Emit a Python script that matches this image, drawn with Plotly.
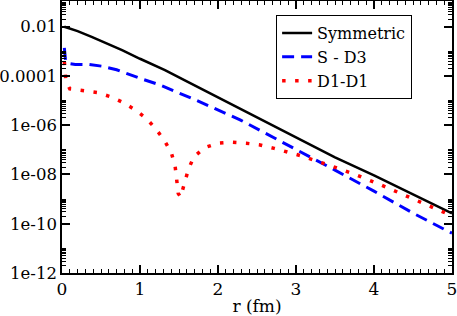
import plotly.graph_objects as go

# Symmetric
r_sym = [0.03, 0.2, 0.38, 0.6, 0.77, 1.0, 1.32, 1.6, 2.0, 2.55, 3.07, 3.5, 4.0, 4.5, 5.0]
v_sym = [1.0e-2, 6.6e-3, 3.9e-3, 2.0e-3, 1.12e-3, 5.0e-4, 1.74e-4, 6.0e-5, 1.35e-5,
         1.74e-6, 2.5e-7, 5.0e-8, 9.1e-9, 1.55e-9, 2.63e-10]

# S - D3
r_sd3 = [0.03, 0.035, 0.045, 0.07, 0.17, 0.35, 0.51, 0.7, 0.85, 1.05, 1.24, 1.71, 2.29,
         3.06, 3.5, 4.0, 4.5, 5.0]
v_sd3 = [1.38e-3, 7.0e-4, 4.5e-4, 3.3e-4, 2.95e-4, 2.9e-4, 2.5e-4, 1.78e-4, 1.17e-4,
         7.1e-5, 4.5e-5, 1.07e-5, 1.62e-6, 8.5e-8, 1.5e-8, 2.1e-9, 2.7e-10, 4.1e-11]

# D1-D1
r_dd = [0.03, 0.035, 0.05, 0.1, 0.27, 0.45, 0.62, 0.78, 0.94, 1.08, 1.195, 1.31, 1.40,
        1.45, 1.47, 1.49, 1.52, 1.57, 1.62, 1.69, 1.83, 2.0, 2.17, 2.36, 2.54, 2.72,
        2.89, 3.06, 3.39, 3.74, 4.07, 4.41, 4.73, 4.90, 5.0]
v_dd = [3.8e-4, 1.6e-4, 6.3e-5, 3.0e-5, 2.5e-5, 2.14e-5, 1.45e-5, 8.5e-6, 4.2e-6,
        1.9e-6, 7.6e-7, 2.5e-7, 7.9e-8, 2.2e-8, 6.3e-9, 1.7e-9, 1.2e-9, 4.7e-9, 1.6e-8,
        5.2e-8, 1.23e-7, 1.86e-7, 2.04e-7, 1.86e-7, 1.58e-7, 1.15e-7, 8.5e-8, 5.8e-8,
        2.6e-8, 1.05e-8, 4.0e-9, 1.38e-9, 4.9e-10, 2.8e-10, 2.1e-10]

y_tickvals = [1e-12, 1e-10, 1e-8, 1e-6, 1e-4, 1e-2]
y_ticktext = ["1e-12", "1e-10", "1e-08", "1e-06", "0.0001", "0.01"]
x_tickvals = [0, 1, 2, 3, 4, 5]

minor_y = [k * m for m in y_tickvals for k in range(2, 11)]

font = "DejaVu Serif"

fig = go.Figure()
fig.add_trace(go.Scatter(x=r_sym, y=v_sym, mode="lines", name="Symmetric",
                         line=dict(color="black", width=2.5)))
fig.add_trace(go.Scatter(x=r_sd3, y=v_sd3, mode="lines", name="S - D3",
                         line=dict(color="#0000ff", width=3, dash="12px,7px")))
fig.add_trace(go.Scatter(x=r_dd, y=v_dd, mode="lines", name="D1-D1",
                         line=dict(color="#ff0000", width=3.5, dash="3.5px,9.5px")))

fig.update_layout(
    width=457, height=316,
    margin=dict(l=62, r=5, t=1, b=43, autoexpand=False),
    paper_bgcolor="white", plot_bgcolor="white",
    font=dict(family=font, size=17, color="black"),
    showlegend=True,
    legend=dict(x=0.549, y=0.948, xanchor="left", yanchor="top",
                bgcolor="white", bordercolor="black", borderwidth=1,
                font=dict(family=font, size=16), tracegroupgap=0),
)
fig.update_xaxes(
    range=[0, 5], tickvals=x_tickvals, ticktext=[str(v) for v in x_tickvals],
    ticks="inside", ticklen=8, tickwidth=1.5, tickcolor="black",
    showline=True, linecolor="black", linewidth=1.5, mirror="ticks",
    showgrid=False, zeroline=False, automargin=False, ticklabeloverflow="allow",
    minor=dict(dtick=0.1, tick0=0, ticks="inside", ticklen=4, tickwidth=1, tickcolor="black"),
    title=dict(text="r (fm)", standoff=11, font=dict(family=font, size=17)),
    tickfont=dict(family=font, size=17),
)
fig.update_yaxes(
    type="log", range=[-12, -0.956], tickvals=y_tickvals, ticktext=y_ticktext,
    ticks="inside", ticklen=8, tickwidth=1.5, tickcolor="black",
    showline=True, linecolor="black", linewidth=1.5, mirror="ticks",
    showgrid=False, zeroline=False, automargin=False, ticklabeloverflow="allow",
    minor=dict(tickmode="array", tickvals=minor_y, ticks="inside", ticklen=4,
               tickwidth=1, tickcolor="black"),
    tickfont=dict(family=font, size=16.5),
)

fig.write_html("out.html", config={"displayModeBar": False},
               post_script="document.body.style.margin='0';document.body.style.padding='0';")
